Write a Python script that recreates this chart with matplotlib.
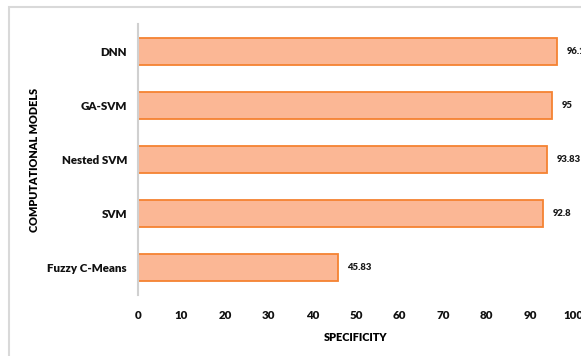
import matplotlib.pyplot as plt
from matplotlib.patches import Rectangle

modelos = ['Fuzzy C-Means', 'SVM', 'Nested SVM', 'GA-SVM', 'DNN']
especificidad = [45.83, 92.8, 93.83, 95, 96.1]
etiquetas = ['45.83', '92.8', '93.83', '95', '96.1']
xticks = [0, 10, 20, 30, 40, 50, 60, 70, 80, 90, 100]

plt.rcParams['font.family'] = ['Lato', 'DejaVu Sans']

W, H = 581, 356
fig = plt.figure(figsize=(W / 100, H / 100), dpi=100)

# marco gris alrededor del grafico
fig.patches.append(Rectangle((9 / W, -0.1), 1.2, 1 - 7 / H + 0.1,
                             transform=fig.transFigure, fill=False,
                             edgecolor='#d9d9d9', linewidth=1.5))

ax = fig.add_axes([138 / W, 1 - 295 / H, (574 - 138) / W, (295 - 24) / H])

pos = range(len(modelos))
ax.barh(pos, especificidad, height=0.5, color='#fbb795',
        edgecolor='#f58232', linewidth=1.3)
for p, v, t in zip(pos, especificidad, etiquetas):
    ax.annotate(t, (v, p), xytext=(7, 0), textcoords='offset points',
                va='center', ha='left', fontsize=6.8, fontweight='heavy',
                color='#1a1a1a')

ax.set_xlim(0, 100)
ax.set_ylim(-0.5, len(modelos) - 0.5)
ax.set_xticks(xticks)
ax.set_yticks(list(pos))
ax.set_yticklabels(modelos)
for lab in ax.get_xticklabels() + ax.get_yticklabels():
    lab.set_fontweight('heavy')
    lab.set_fontsize(8.3)
    lab.set_color('#111111')
ax.tick_params(axis='both', length=0)
ax.tick_params(axis='x', pad=11)
ax.tick_params(axis='y', pad=8)

for s in ['top', 'right', 'bottom']:
    ax.spines[s].set_visible(False)
ax.spines['left'].set_color('#d0d0d0')
ax.spines['left'].set_linewidth(1.5)

ax.set_xlabel('SPECIFICITY', fontsize=7.8, fontweight='heavy', labelpad=8)
fig.text(35 / W, 1 - 160 / H, 'COMPUTATIONAL MODELS', rotation=90,
         ha='center', va='center', fontsize=7.8, fontweight='heavy')

fig.savefig('out.png', dpi=100)
